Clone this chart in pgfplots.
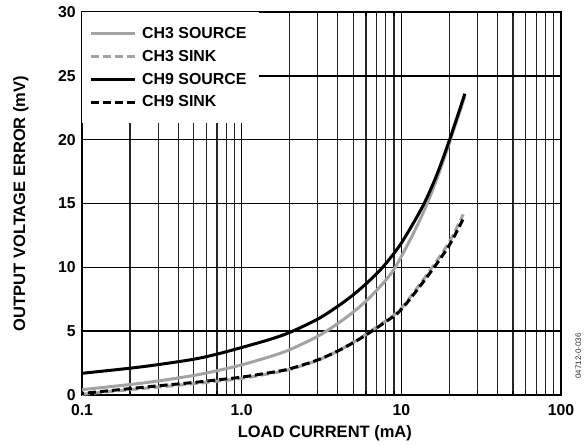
\documentclass[border=0pt]{standalone}
\usepackage{pgfplots}
\pgfplotsset{compat=1.18}
\usepackage{fontspec}
\setmainfont{Liberation Sans}
\definecolor{lgray}{gray}{0.64}
\begin{document}
\begin{tikzpicture}
\useasboundingbox (-82bp,-50bp) rectangle (505bp,395bp);
\begin{axis}[
  at={(0,0)}, anchor=south west,
  scale only axis, width=479bp, height=383bp,
  xmode=log, xmin=0.1, xmax=100, ymin=0, ymax=30,
  xtick={0.1,1,10,100}, xticklabels={0.1,1.0,10,100},
  minor xtick={0.2,0.3,0.4,0.5,0.6,0.7,0.8,0.9,2,3,4,5,6,7,8,9,20,30,40,50,60,70,80,90},
  ytick={0,5,10,15,20,25,30},
  xmajorgrids=true, xminorgrids=true, ymajorgrids=true,
  major grid style={black, line width=1.6bp},
  minor grid style={black!85, line width=1.2bp},
  axis line style={black, line width=2bp},
  tick align=inside,
  major tick length=6bp, minor tick length=4bp,
  tick style={black, line width=1.2bp},
  /pgf/number format/assume math mode=true,
  tick label style={font=\fontsize{15.8bp}{16bp}\selectfont\bfseries},
  xticklabel style={yshift=-6bp},
  yticklabel style={xshift=-2.7bp},
  xlabel={LOAD CURRENT (mA)},
  ylabel={OUTPUT VOLTAGE ERROR (mV)},
  every axis x label/.style={at={(axis description cs:0.507,-0.0992)}, anchor=center,
    font=\fontsize{16.5bp}{17bp}\selectfont\bfseries},
  every axis y label/.style={at={(axis description cs:-0.1274,0.5)}, rotate=90, anchor=center,
    font=\fontsize{16.5bp}{17bp}\selectfont\bfseries},
  legend style={at={(axis description cs:0,1)}, anchor=north west, fill=white, draw=none,
    inner xsep=7.5bp, inner ysep=13bp, row sep=6.3bp,
    font=\fontsize{15.9bp}{16bp}\selectfont\bfseries,
    nodes={inner xsep=5.5bp, inner ysep=2bp, text depth=0.15em}},
  legend cell align=left,
  legend image code/.code={\draw[#1, dash phase=0bp] (0bp,0bp) -- (44bp,0bp);},
]
\addplot[lgray, line width=3bp, smooth] coordinates {
(0.1,0.42) (0.2,0.82) (0.3,1.1) (0.5,1.53) (0.7,1.9) (1.0,2.36) (1.5,3.0) (2.0,3.55)
(3.0,4.6) (4.0,5.6) (5.0,6.5) (6.0,7.35) (7.0,8.2) (8.0,9.0) (9.0,9.85) (10,10.85)
(12,12.75) (14.3,14.8) (17,17.2) (20,19.75) (25,23.4)};
\addlegendentry{CH3 SOURCE}
\addplot[lgray, line width=3bp, smooth, dash pattern=on 8bp off 4bp] coordinates {
(0.1,0.05) (0.2,0.42) (0.3,0.62) (0.5,0.88) (0.7,1.08) (1.0,1.3) (1.5,1.68) (2.0,2.0)
(3.0,2.72) (4.0,3.45) (5.0,4.12) (6.0,4.75) (8.0,5.82) (10,6.8) (15,9.7) (20,12.0) (24.4,14.15)};
\addlegendentry{CH3 SINK}
\addplot[black, line width=3bp, smooth] coordinates {
(0.1,1.7) (0.2,2.1) (0.3,2.38) (0.5,2.8) (0.7,3.2) (1.0,3.72) (1.5,4.35) (2.0,4.9)
(3.0,5.95) (4.0,6.95) (5.0,7.85) (6.0,8.7) (7.0,9.5) (8.0,10.3) (10,11.9) (13.5,14.7)
(16.5,17.1) (20,19.95) (25,23.6)};
\addlegendentry{CH9 SOURCE}
\addplot[black, line width=3bp, smooth, dash pattern=on 8bp off 4bp, dash phase=6bp] coordinates {
(0.1,0.12) (0.2,0.5) (0.3,0.72) (0.5,0.98) (0.7,1.18) (1.0,1.4) (1.5,1.75) (2.0,2.05)
(3.0,2.75) (4.0,3.45) (5.0,4.1) (6.0,4.7) (8.0,5.75) (10,6.7) (15,9.5) (20,11.75) (24.4,13.8)};
\addlegendentry{CH9 SINK}
\end{axis}
\node[rotate=90, font=\fontsize{8bp}{9bp}\selectfont, text=black!80, inner sep=0pt] at (496.3bp,39bp) {04712-0-036};
\end{tikzpicture}
\end{document}
